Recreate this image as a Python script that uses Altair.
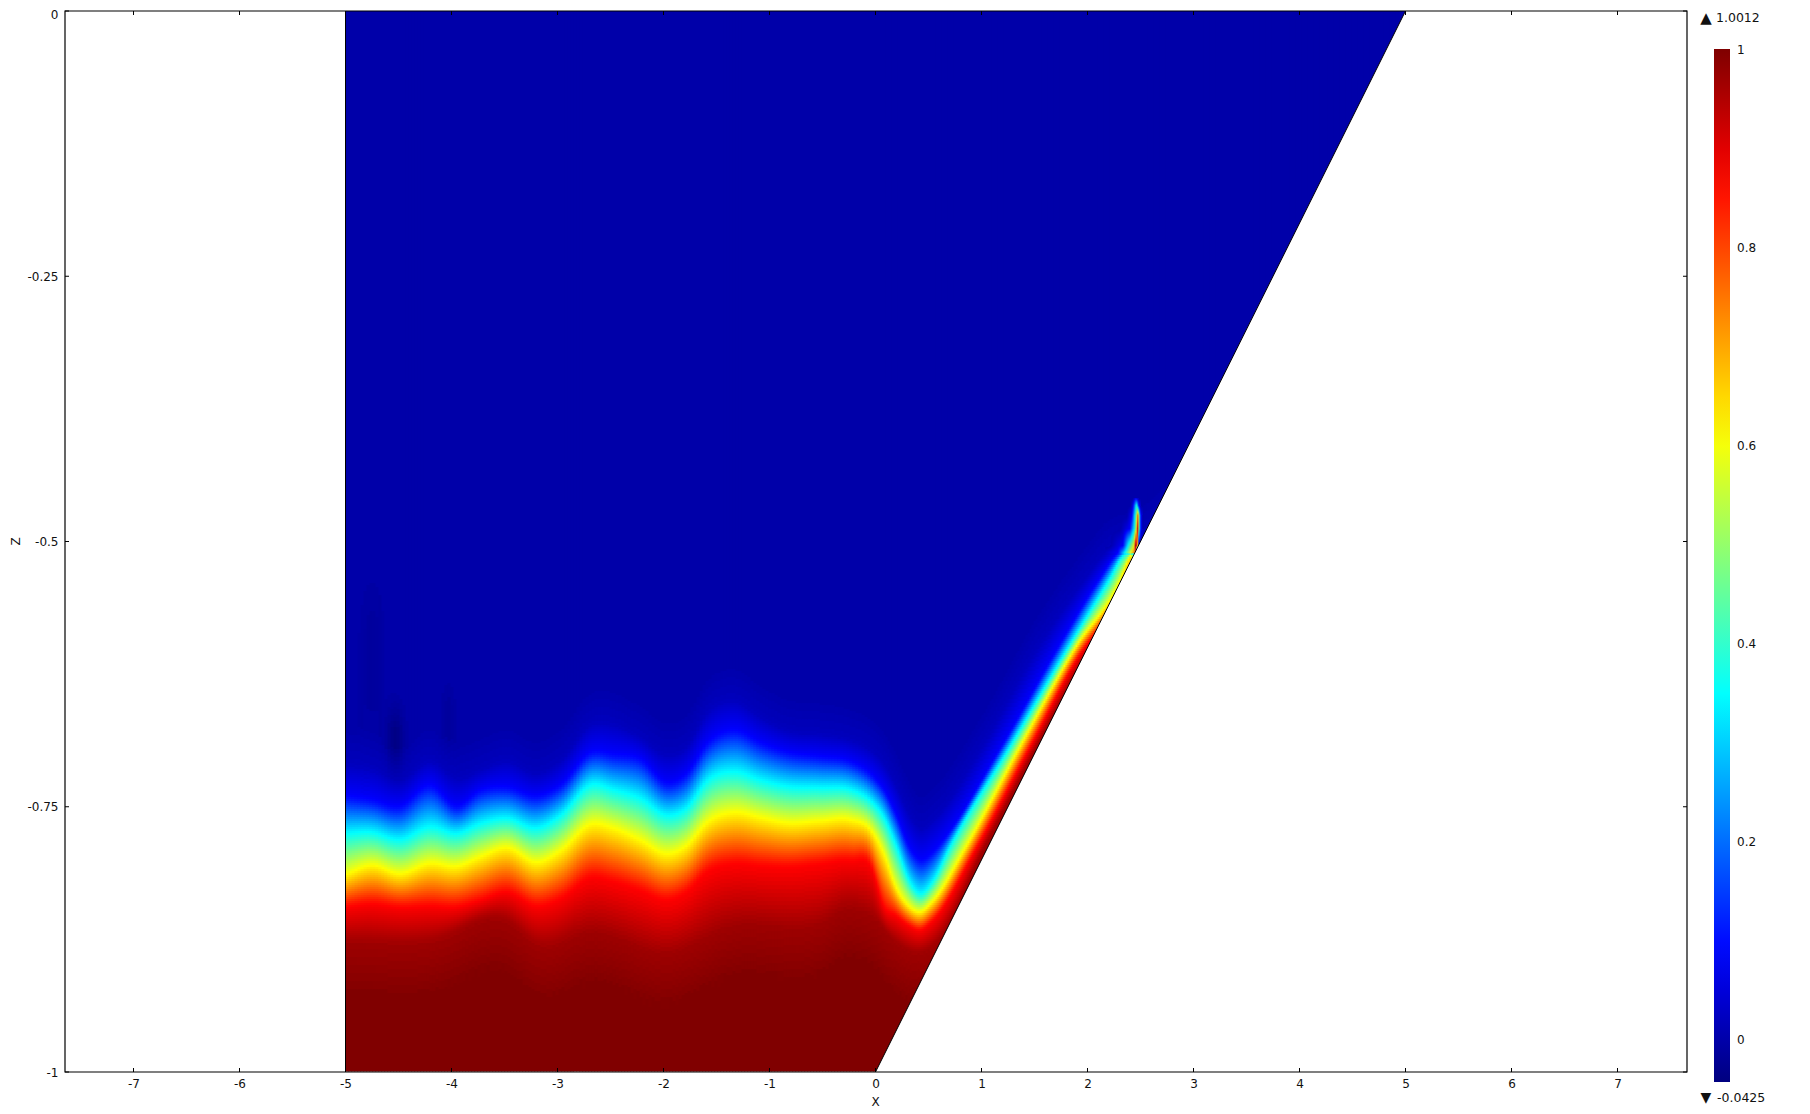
import numpy as np
import pandas as pd
import altair as alt

alt.data_transformers.disable_max_rows()

# x positions shared by all contour readings, left of the trough
anchor_x = [-5, -4.75, -4.49, -4.2, -3.95, -3.73, -3.48, -3.19, -2.97, -2.68, -2.47, -2.22, -1.96,
            -1.79, -1.58, -1.33, -1.08, -0.82, -0.53, -0.23, -0.04, 0.08, 0.19, 0.32, 0.42, 0.53]
# contour levels
levels = [0.0, 0.02, 0.088, 0.349, 0.61, 0.871, 0.97, 1.0]
bg_z = [-.709, -.712, -.725, -.706, -.722, -.715, -.706, -.718, -.706, -.671, -.671, -.684, -.700,
        -.693, -.659, -.649, -.665, -.678, -.681, -.687, -.696, -.709, -.728, -.756, -.769, -.762]
blue_z = [-.740, -.744, -.750, -.730, -.750, -.735, -.732, -.740, -.730, -.699, -.701, -.705, -.728,
          -.720, -.690, -.678, -.690, -.699, -.703, -.708, -.720, -.734, -.756, -.788, -.800, -.794]
cyan_z = [-.775, -.774, -.781, -.769, -.775, -.766, -.761, -.770, -.758, -.729, -.734, -.742, -.758,
          -.752, -.725, -.717, -.725, -.731, -.732, -.734, -.745, -.760, -.785, -.820, -.832, -.822]
yellow_z = [-.814, -.805, -.813, -.803, -.806, -.797, -.788, -.802, -.791, -.766, -.770, -.781, -.794,
            -.787, -.764, -.755, -.760, -.765, -.763, -.762, -.772, -.794, -.825, -.844, -.849, -.840]
red_z = [-.844, -.841, -.844, -.843, -.844, -.838, -.830, -.843, -.836, -.816, -.820, -.828, -.837,
         -.830, -.810, -.803, -.805, -.806, -.803, -.800, -.806, -.844, -.852, -.862, -.866, -.858]
dark_x = [-5, -4.2, -3.48, -3.19, -2.68, -1.96, -1.33, -.53, -.27, -.04, .19, .42, .53, 1.04, 1.533, 5.1]
dark_z = [-.877, -.877, -.857, -.880, -.867, -.887, -.861, -.860, -.845, -.852, -.877, -.887, -.882, -.785, -.69, -.1]
halo_shift = 0.035
tail_shift = -0.05
# the same contours along the slanted wall, right of the trough
bg_rx = [1.0, 1.53, 1.97, 2.165, 2.47, 5.1]
bg_rz = [-.6934, -.599, -.5362, -.511, -.498, -.01]
blue_rx = [0.59, 1.19, 1.73, 2.11, 2.288, 2.47, 5.1]
blue_rz = [-.7876, -.6934, -.599, -.5362, -.511, -.507, -.02]
cyan_rx = [.704, 1.27, 1.825, 2.205, 2.354, 2.48, 5.1]
cyan_rz = [-.7876, -.6934, -.599, -.5362, -.511, -.515, -.03]
yellow_rx = [.854, 1.363, 1.892, 2.31, 2.41, 2.5, 5.1]
yellow_rz = [-.7876, -.6934, -.599, -.5362, -.511, -.503, -.04]
red_rx = [.958, 1.458, 1.977, 2.1, 5.1]
red_rz = [-.7876, -.6934, -.599, -.583, -.05]
# cross-sections of the crescent at the tip of the wall layer
tip_rows_z = [-.459, -.4656, -.475, -.4873, -.5033, -.5099]
tip_rows_x = [
    [2.429, 2.458, 2.486],
    [2.410, 2.432, 2.464, 2.486, 2.505],
    [2.373, 2.420, 2.448, 2.470, 2.479, 2.489, 2.505, 2.524],
    [2.307, 2.401, 2.441, 2.464, 2.474, 2.489, 2.505, 2.524],
    [2.212, 2.335, 2.382, 2.439, 2.458, 2.476],
    [2.165, 2.288, 2.354, 2.410, 2.458],
]
tip_rows_v = [
    [0, .1, 0],
    [0, .088, .4, .088, 0],
    [0, .088, .349, .61, .85, .349, .088, 0],
    [0, .088, .349, .61, 1.0, .349, .088, 0],
    [0, .088, .349, .61, 1.0, .6],
    [.02, .088, .349, .61, .8],
]
# faint undershoot patches: x, z, half-width x, half-width z, depth
patch_x = [-4.53, -4.75, -4.03]
patch_z = [-.684, -.60, -.664]
patch_rx = [.08, .12, .07]
patch_rz = [.028, .06, .03]
patch_d = [-.036, -.012, -.012]

x_ticks = list(range(-7, 8))
z_ticks = [0, -0.25, -0.5, -0.75, -1]
bar_ticks = [0, 0.2, 0.4, 0.6, 0.8, 1]
bar_domain = [-0.0425, 0.088, 0.349, 0.61, 0.871, 1.0012]
bar_colors = ["#00007f", "#0000ff", "#00ffff", "#ffff00", "#ff0000", "#7f0000"]
max_label = ["1.0012"]
min_label = ["-0.0425"]
up_mark = ["▲"]
down_mark = ["▼"]

PX = 106.0
PZ = 1061.0
W, H = 1622, 1061
x_dom = [(65 - 875.5) / PX, (1687 - 875.5) / PX]

fine_x = np.arange(-5.2, 5.2, 0.005)


def curve(xs, zs, shift=0.0):
    xs = np.asarray(xs, float)
    zs = np.asarray(zs, float) + shift
    m = np.gradient(zs, xs)
    q = np.clip(fine_x, xs[0], xs[-1])
    i = np.clip(np.searchsorted(xs, q) - 1, 0, len(xs) - 2)
    h = xs[i + 1] - xs[i]
    t = (q - xs[i]) / h
    raw = ((2 * t**3 - 3 * t**2 + 1) * zs[i] + (t**3 - 2 * t**2 + t) * h * m[i]
           + (-2 * t**3 + 3 * t**2) * zs[i + 1] + (t**3 - t**2) * h * m[i + 1])
    n = 7
    pad = np.r_[np.full(n, raw[0]), raw, np.full(n, raw[-1])]
    return np.convolve(pad, np.ones(n) / n, mode="same")[n:-n]


curves = [
    curve(anchor_x + bg_rx, bg_z + bg_rz, halo_shift),
    curve(anchor_x + bg_rx, bg_z + bg_rz),
    curve(anchor_x + blue_rx, blue_z + blue_rz),
    curve(anchor_x + cyan_rx, cyan_z + cyan_rz),
    curve(anchor_x + yellow_rx, yellow_z + yellow_rz),
    curve(anchor_x + red_rx, red_z + red_rz),
    curve(dark_x, dark_z),
    curve(dark_x, dark_z, tail_shift),
]

cols = np.r_[np.arange(-5, 0, 3 / PX), np.arange(0, 5.02, 2 / PX)]
rows = np.arange(0, -1.0005, -2 / PZ)
ox = 0.6 / PX
oz = 0.6 / PZ
recs = []
nr = len(rows)
for i, cx in enumerate(cols):
    step = cols[i + 1] - cx if i + 1 < len(cols) else 2 / PX
    mid = cx + step / 2
    zl = np.array([np.interp(mid, fine_x, c) for c in curves])
    zl = np.minimum.accumulate(zl)
    zl = zl - np.arange(len(zl)) * 1e-6
    vals = np.interp(-(rows - 1 / PZ), -zl, levels)
    n = 5 if cx < 0 else 3
    pad = np.r_[np.full(n, vals[0]), vals, np.full(n, vals[-1])]
    vals = np.convolve(pad, np.ones(n) / n, mode="same")[n:-n]
    for px, pz, prx, prz, pd_ in zip(patch_x, patch_z, patch_rx, patch_rz, patch_d):
        vals = vals + pd_ * np.exp(-((mid - px) / prx) ** 2 - ((rows - pz) / prz) ** 2)
    wall = 0.2 * cx - 1
    j = 0
    while j < nr - 1 and rows[j] > wall - 4 / PZ:
        k = j + 1
        while k < nr - 1 and abs(vals[k] - vals[j]) < 0.004:
            k += 1
        recs.append((round(cx, 4), round(cx + step + ox, 4), round(rows[j], 5),
                     round(rows[k] - oz, 5), round(float(vals[(j + k - 1) // 2]), 4)))
        j = k
heat = pd.DataFrame(recs, columns=["a", "b", "c", "d", "v"])

tip_recs = []
tx = np.arange(2.15, 2.56, 1 / PX)
profiles = np.array([np.interp(tx + 0.5 / PX, rx, rv, left=0, right=0)
                     for rx, rv in zip(tip_rows_x, tip_rows_v)])
tz = np.arange(tip_rows_z[0], tip_rows_z[-1], -1 / PZ)
for z in tz:
    prof = [np.interp(-z, [-t for t in tip_rows_z], profiles[:, c]) for c in range(len(tx))]
    for x0, v in zip(tx, prof):
        if v > 0.006:
            tip_recs.append((round(x0, 4), round(x0 + 1.3 / PX, 4), round(z, 5),
                             round(z - 1.3 / PZ, 5), round(float(v), 4)))
tip = pd.DataFrame(tip_recs, columns=["a", "b", "c", "d", "v"])

color_scale = alt.Scale(domain=bar_domain, range=bar_colors, interpolate="rgb", clamp=True)
x_scale = alt.Scale(domain=x_dom, nice=False, zero=False)
z_scale = alt.Scale(domain=[-1, 0], nice=False, zero=False)
FONT = "DejaVu Sans"

x_axis = alt.Axis(
    title="X", values=x_ticks, labelExpr="'' + datum.value", grid=False, domain=False, ticks=False,
    tickSize=0, labelPadding=6, labelFont=FONT, labelFontSize=12, labelColor="#111111",
    labelOverlap=False, titleFont=FONT, titleFontSize=12, titleFontWeight="normal",
    titleColor="#111111", titleX=810, titleY=29, titleBaseline="middle")
z_axis = alt.Axis(
    title="Z", values=z_ticks, labelExpr="'' + datum.value", grid=False, domain=False, ticks=False,
    tickSize=0, labelPadding=7, labelFont=FONT, labelFontSize=12, labelColor="#111111",
    labelOverlap=False, labelOffset={"condition": {"test": "datum.value == 0", "value": 3}, "value": 0},
    titleFont=FONT, titleFontSize=12, titleFontWeight="normal",
    titleColor="#111111", titleX=-50, titleY=530, titleBaseline="middle", titleAlign="center")

heat_layer = alt.Chart(heat).mark_rect(clip=True, strokeWidth=0).encode(
    x=alt.X("a:Q", scale=x_scale, axis=x_axis),
    x2="b:Q",
    y=alt.Y("c:Q", scale=z_scale, axis=z_axis),
    y2="d:Q",
    color=alt.Color("v:Q", scale=color_scale, legend=alt.Legend(
        title=None, type="gradient", orient="none", direction="vertical", legendX=1649, legendY=38,
        gradientLength=1033, gradientThickness=16, gradientStrokeWidth=0, values=bar_ticks,
        labelExpr="'' + datum.value", labelFont=FONT, labelFontSize=12, labelColor="#111111",
        labelOffset=7, labelOverlap=False)),
)

tip_layer = alt.Chart(tip).mark_rect(clip=True, strokeWidth=0).encode(
    x=alt.X("a:Q", scale=x_scale, axis=x_axis),
    x2="b:Q",
    y=alt.Y("c:Q", scale=z_scale, axis=z_axis),
    y2="d:Q",
    color=alt.Color("v:Q", scale=color_scale, legend=None),
)

wall_df = pd.DataFrame({"x": [0, 5.4], "z": [-1, 0.08], "r": [x_dom[1], x_dom[1]]})
white = alt.Chart(wall_df).mark_area(orient="horizontal", color="white", clip=True).encode(
    x=alt.X("x:Q", scale=x_scale, axis=x_axis),
    x2="r:Q",
    y=alt.Y("z:Q", scale=z_scale, axis=z_axis),
)
edge_df = pd.DataFrame({"x": [-5, -5, 0, 5], "z": [0, -1, -1, 0], "s": ["l", "l", "w", "w"]})
edges = alt.Chart(edge_df).mark_line(color="black", strokeWidth=1, clip=True).encode(
    x=alt.X("x:Q", scale=x_scale, axis=x_axis),
    y=alt.Y("z:Q", scale=z_scale, axis=z_axis),
    detail="s:N",
)

xt = pd.DataFrame({"x": x_ticks})
zt = pd.DataFrame({"z": z_ticks})
tick_x_bottom = alt.Chart(xt).mark_rule(color="black").encode(
    x=alt.X("x:Q", scale=x_scale, axis=x_axis), y=alt.value(H), y2=alt.value(H - 4))
tick_x_top = alt.Chart(xt).mark_rule(color="black").encode(
    x=alt.X("x:Q", scale=x_scale, axis=x_axis), y=alt.value(0), y2=alt.value(4))
tick_z_left = alt.Chart(zt).mark_rule(color="black").encode(
    y=alt.Y("z:Q", scale=z_scale, axis=z_axis), x=alt.value(0), x2=alt.value(4))
tick_z_right = alt.Chart(zt).mark_rule(color="black").encode(
    y=alt.Y("z:Q", scale=z_scale, axis=z_axis), x=alt.value(W), x2=alt.value(W - 4))

frame = alt.Chart(pd.DataFrame({"k": [1]})).mark_rect(
    filled=False, stroke="black", strokeWidth=1.2).encode(
    x=alt.value(0), x2=alt.value(W), y=alt.value(0), y2=alt.value(H))


def label(items, px, py, size, align):
    return alt.Chart(pd.DataFrame({"t": items})).mark_text(
        align=align, baseline="middle", font=FONT, fontSize=size, color="#111111").encode(
        text="t:N", x=alt.value(px), y=alt.value(py))


chart = alt.layer(
    heat_layer, tip_layer, white, edges, tick_x_bottom, tick_x_top, tick_z_left, tick_z_right, frame,
    label(up_mark, 1641, 7, 15, "center"), label(max_label, 1651, 7, 12.5, "left"),
    label(down_mark, 1641, 1087, 14, "center"), label(min_label, 1652, 1087, 12.5, "left"),
).resolve_scale(color="shared").properties(
    width=W, height=H,
    padding={"left": 57, "top": 3, "right": 100, "bottom": 36},
    autosize=alt.AutoSizeParams(type="none"),
    background="white",
).configure_view(stroke=None)

print(len(heat), len(tip))
chart.save("out.html", embed_options={"renderer": "svg", "actions": False})
